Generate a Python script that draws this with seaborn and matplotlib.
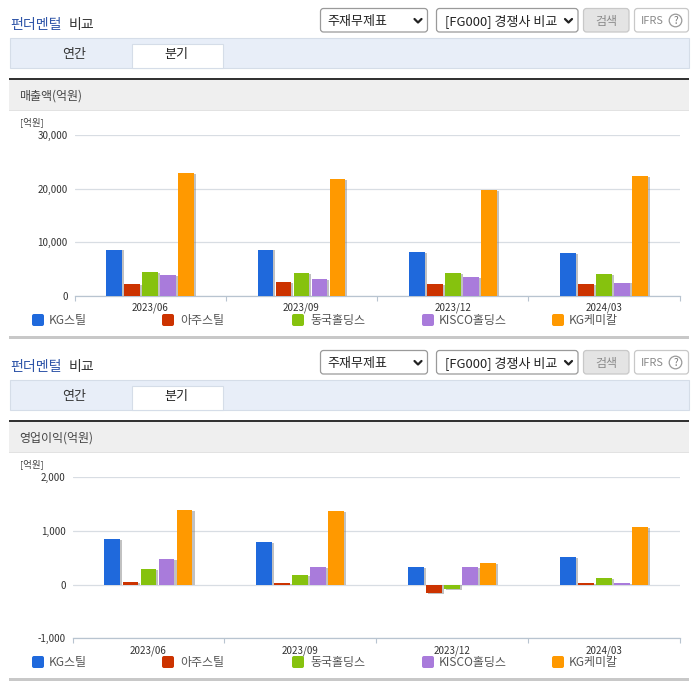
#!/bin/python3
import pandas as pd
import matplotlib
matplotlib.use("Agg")
import matplotlib.pyplot as plt
import matplotlib.patheffects as pe
from matplotlib.patches import Rectangle, FancyBboxPatch, Circle
from matplotlib.ticker import FuncFormatter, FixedLocator
import seaborn as sns

quarters = ["2023/06", "2023/09", "2023/12", "2024/03"]
companies = ["KG스틸", "아주스틸", "동국홀딩스", "KISCO홀딩스", "KG케미칼"]
colors = ["#1f69dc", "#cc3300", "#86c20e", "#a97bdb", "#ff9900"]

# Values per company, one entry per quarter
sales_kg_steel = [8650, 8650, 8200, 8030]
sales_aju = [2300, 2600, 2300, 2300]
sales_dongkuk = [4480, 4350, 4350, 4100]
sales_kisco = [3980, 3230, 3550, 2490]
sales_kg_chem = [23000, 21900, 19850, 22400]

profit_kg_steel = [843, 794, 326, 510]
profit_aju = [55, 30, -154, 30]
profit_dongkuk = [290, 178, -80, 123]
profit_kisco = [474, 332, 326, 30]
profit_kg_chem = [1385, 1366, 400, 1065]

sales_ticks = [0, 10000, 20000, 30000]
profit_ticks = [-1000, 0, 1000, 2000]

W, H = 696, 684

sns.set_theme(style="white")
plt.rcParams["font.family"] = ["Noto Sans CJK KR", "DejaVu Sans"]


def px(size):
    return size * 72 / 100


def make_df(series):
    rows = []
    for name, vals in zip(companies, series):
        for q, v in zip(quarters, vals):
            rows.append({"quarter": q, "company": name, "value": v})
    return pd.DataFrame(rows)


fig = plt.figure(figsize=(W / 100, H / 100), dpi=100, facecolor="white")

# Overlay in pixel coords for the page furniture
bg = fig.add_axes([0, 0, 1, 1], zorder=0)
bg.set_xlim(0, W)
bg.set_ylim(H, 0)
bg.axis("off")


def rect(x0, y0, x1, y1, fc, ec="none", lw=0.8):
    bg.add_patch(Rectangle((x0, y0), x1 - x0, y1 - y0, facecolor=fc, edgecolor=ec, linewidth=lw))


def round_box(x0, y0, x1, y1, fc, ec):
    bg.add_patch(FancyBboxPatch((x0 + 3, y0 + 3), x1 - x0 - 6, y1 - y0 - 6,
                                boxstyle="round,pad=3,rounding_size=3",
                                facecolor=fc, edgecolor=ec, linewidth=0.9))


def label(x, y, s, size=12, color="#333333", ha="left", **kw):
    # CJK glyphs sit a little high with va=center
    bg.text(x, y + 1, s, fontsize=px(size), color=color, ha=ha, va="center", **kw)


def chevron(x, y):
    bg.plot([x - 3.5, x, x + 3.5], [y - 2, y + 1.5, y - 2], color="#222222", lw=1.6)


def section(off, heading):
    # Title row
    label(10, 23.5 + off, "펀더멘털", size=14, color="#2f55a8", fontweight="medium")
    label(69, 23.5 + off, "비교", size=14, color="#333333", fontweight="medium")
    round_box(320.5, 8.5 + off, 427.5, 32 + off, "white", "#9a9a9a")
    label(327, 20.5 + off, "주재무제표", size=13, color="#222222")
    chevron(418, 21 + off)
    round_box(436.5, 8.5 + off, 578, 32 + off, "white", "#9a9a9a")
    label(445, 20.5 + off, "[FG000] 경쟁사 비교", size=13, color="#222222")
    chevron(568.5, 21 + off)
    round_box(583.5, 8.5 + off, 629, 32 + off, "#e4e4e4", "#c8c8c8")
    label(606, 20 + off, "검색", size=12, color="#8a8a8a", ha="center")
    round_box(634.5, 8.5 + off, 688.5, 32 + off, "white", "#c8c8c8")
    label(641, 19.5 + off, "IFRS", size=11, color="#8a8a8a")
    bg.add_patch(Circle((675.5, 20.5 + off), 6.3, facecolor="white", edgecolor="#9a9a9a", linewidth=0.9))
    label(675.5, 19.5 + off, "?", size=10, color="#777777", ha="center")

    # Tabs
    rect(9.5, 38 + off, 689, 67.5 + off, "#e8eef8", "#d5dde8")
    rect(131.5, 43.5 + off, 222.5, 67.5 + off, "white", "#d5dde8")
    label(74, 53.5 + off, "연간", size=13, ha="center")
    label(176, 53.5 + off, "분기", size=13, color="#222222", ha="center")

    # Chart heading band
    rect(9, 80 + off, 689, 110 + off, "#efefef")
    rect(9, 110 + off, 689, 111 + off, "#e2e2e2")
    rect(9, 78 + off, 689, 80 + off, "#333333")
    label(19, 95 + off, heading, size=12, color="#444444")
    label(20, 121.5 + off, "[억원]", size=9.5, color="#444444")

    # Legend
    for x0, tx, name, c in zip([32, 162, 292, 422, 552], [49, 180, 310, 439, 569], companies, colors):
        bg.add_patch(FancyBboxPatch((x0 + 2, 316 + off), 8, 8, boxstyle="round,pad=2,rounding_size=2",
                                    facecolor=c, edgecolor="none"))
        label(tx, 319.5 + off, name, size=12, color="#555555")

    rect(9, 336 + off, 689, 338.5 + off, "#c8c8c8")


def chart(x0, x1, y_top, y_bot, series, ticks, xlabel_pad):
    ax = fig.add_axes([x0 / W, 1 - y_bot / H, (x1 - x0) / W, (y_bot - y_top) / H], zorder=2)
    ax.patch.set_alpha(0)
    sns.barplot(data=make_df(series), x="quarter", y="value", hue="company", hue_order=companies,
                palette=colors, saturation=1, width=0.595, gap=0.133, legend=False, ax=ax, zorder=3,
                linewidth=0, edgecolor="none")
    for bar in ax.patches:
        bar.set_path_effects([pe.SimplePatchShadow(offset=(1.6, -0.6), shadow_rgbFace="#777777", alpha=0.45),
                              pe.Normal()])
    ax.set_xlim(-0.5, 3.5)
    ax.set_ylim(ticks[0], ticks[-1])
    ax.set_xlabel("")
    ax.set_ylabel("")
    ax.set_yticks(ticks)
    ax.yaxis.set_major_formatter(FuncFormatter(lambda v, _: f"{int(v):,}"))
    ax.xaxis.set_minor_locator(FixedLocator([-0.5, 0.5, 1.5, 2.5, 3.5]))
    ax.tick_params(axis="x", which="major", length=0, pad=xlabel_pad, labelsize=px(9.8), labelcolor="#333333")
    ax.tick_params(axis="x", which="minor", length=3.6, width=0.8, color="#b8c4d0", bottom=True)
    ax.tick_params(axis="y", length=0, pad=5, labelsize=px(9.8), labelcolor="#333333")
    ax.grid(axis="y", color="#d8dde3", lw=0.9)
    ax.set_axisbelow(True)
    sns.despine(ax=ax, left=True, top=True, right=True)
    ax.spines["bottom"].set_color("#b8c4d0")
    ax.spines["bottom"].set_linewidth(0.9)
    return ax


section(0, "매출액(억원)")
section(342, "영업이익(억원)")

chart(74.5, 679.7, 135.3, 296, [sales_kg_steel, sales_aju, sales_dongkuk, sales_kisco, sales_kg_chem],
      sales_ticks, 5)
chart(72.5, 679.7, 477.3, 638.3, [profit_kg_steel, profit_aju, profit_dongkuk, profit_kisco, profit_kg_chem],
      profit_ticks, 5)

fig.savefig("out.png", dpi=100)
